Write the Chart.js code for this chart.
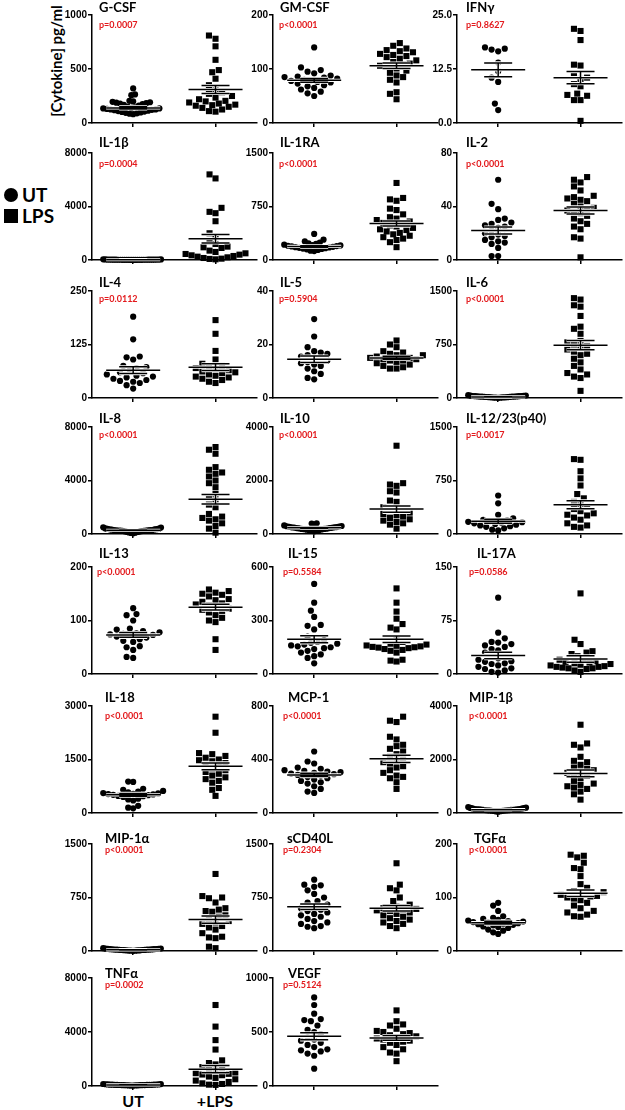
<!DOCTYPE html>
<html>
<head>
<meta charset="utf-8">
<script src="https://cdn.jsdelivr.net/npm/chart.js@4.4.0/dist/chart.umd.min.js"></script>
<style>
body { margin: 0; background: #fff; width: 625px; height: 1110px; position: relative; overflow: hidden; font-family: Lato, "Open Sans", sans-serif; }
canvas { position: absolute; }
.titulo { position: absolute; font-weight: bold; font-size: 13px; line-height: 14px; color: #000; white-space: nowrap; }
.pval { position: absolute; font-weight: bold; font-size: 9px; line-height: 10px; color: #e3191c; white-space: nowrap; }
.texto { position: absolute; font-weight: bold; color: #000; white-space: nowrap; }
</style>
</head>
<body>
<div class="texto" style="left:-9px; top:51px; width:130px; text-align:center; font-size:15px; line-height:20px; transform:rotate(-90deg);">[Cytokine] pg/ml</div>
<div style="position:absolute; left:4px; top:188px; width:14px; height:14px; border-radius:50%; background:#000;"></div>
<div class="texto" style="left:22px; top:183px; font-size:19px; line-height:24px;">UT</div>
<div style="position:absolute; left:4px; top:209px; width:14px; height:14px; background:#000;"></div>
<div class="texto" style="left:22px; top:204px; font-size:19px; line-height:24px;">LPS</div>
<div class="texto" style="left:113px; top:1091px; width:40px; text-align:center; font-size:16px; line-height:20px;">UT</div>
<div class="texto" style="left:185px; top:1091px; width:60px; text-align:center; font-size:16px; line-height:20px;">+LPS</div>
<script>
// datos
const groups = ['UT', '+LPS'];
const panelNames = ['G-CSF', 'GM-CSF', 'IFNγ', 'IL-1β', 'IL-1RA', 'IL-2', 'IL-4', 'IL-5', 'IL-6',
    'IL-8', 'IL-10', 'IL-12/23(p40)', 'IL-13', 'IL-15', 'IL-17A', 'IL-18', 'MCP-1', 'MIP-1β',
    'MIP-1α', 'sCD40L', 'TGFα', 'TNFα', 'VEGF'];
const pValues = ['p=0.0007', 'p<0.0001', 'p=0.8627', 'p=0.0004', 'p<0.0001', 'p<0.0001', 'p=0.0112',
    'p=0.5904', 'p<0.0001', 'p<0.0001', 'p<0.0001', 'p=0.0017', 'p<0.0001', 'p=0.5584', 'p=0.0586',
    'p<0.0001', 'p<0.0001', 'p<0.0001', 'p<0.0001', 'p=0.2304', 'p<0.0001', 'p=0.0002', 'p=0.5124'];
const yMax = [1000, 200, 25, 8000, 1500, 80, 250, 40, 1500, 8000, 4000, 1500, 200, 600, 150, 3000, 800,
    4000, 1500, 1500, 200, 8000, 1000];
const tickLabels = [
    ['0', '500', '1000'], ['0', '100', '200'], ['0.0', '12.5', '25.0'], ['0', '4000', '8000'],
    ['0', '750', '1500'], ['0', '40', '80'], ['0', '125', '250'], ['0', '20', '40'],
    ['0', '750', '1500'], ['0', '4000', '8000'], ['0', '2000', '4000'], ['0', '750', '1500'],
    ['0', '100', '200'], ['0', '300', '600'], ['0', '75', '150'], ['0', '1500', '3000'],
    ['0', '400', '800'], ['0', '2000', '4000'], ['0', '750', '1500'], ['0', '750', '1500'],
    ['0', '100', '200'], ['0', '4000', '8000'], ['0', '500', '1000']
];
const utValues = [
    [320, 265, 258, 205, 200, 196, 192, 188, 184, 180, 175, 168, 160, 152, 146, 140, 135, 130, 126, 122, 118, 114, 110, 106, 102, 98, 94, 90, 86, 82, 125, 135],
    [140, 103, 98, 95, 92, 88, 86, 85, 84, 82, 80, 79, 78, 76, 75, 73, 70, 68, 65, 62, 58, 55, 50],
    [17.5, 17.2, 17.0, 16.6, 14.0, 12.0, 10.5, 9.5, 4.5, 3.0],
    [5, 8, 10, 12, 15, 18, 20, 22, 25, 28, 30, 35, 40, 45, 50, 12, 16, 24, 30, 8, 20, 26, 14, 34, 18, 10, 22, 28],
    [365, 285, 260, 245, 235, 225, 215, 210, 205, 200, 195, 190, 185, 180, 175, 170, 165, 160, 155, 150, 140, 130, 125],
    [60, 42, 38, 31, 30, 28, 27, 26, 25, 24, 22, 20, 19, 18, 17, 15, 14, 13, 12, 9, 3, 3],
    [190, 137, 97, 95, 90, 75, 72, 70, 65, 60, 58, 55, 52, 50, 48, 45, 42, 40, 38, 35, 30, 22],
    [29.5, 23, 19, 17.5, 17, 16.5, 16, 15.5, 15, 14.5, 14, 13.5, 13, 12.5, 12, 11, 10, 9, 7.5, 7],
    [2, 5, 8, 10, 12, 15, 18, 20, 22, 25, 28, 30, 35, 40, 6, 14, 24, 32, 10, 18, 26, 4, 16, 28, 12, 20],
    [500, 480, 420, 400, 380, 360, 350, 340, 320, 300, 290, 280, 270, 260, 250, 240, 230, 220, 200, 180, 160, 150, 120, 100, 80, 50, 300, 260],
    [400, 390, 350, 320, 300, 290, 280, 270, 260, 250, 240, 230, 220, 210, 200, 190, 180, 170, 160, 150, 140, 130, 120, 100, 250, 220, 190],
    [540, 430, 270, 220, 200, 190, 180, 170, 165, 160, 150, 140, 130, 120, 110, 100, 80, 60, 50],
    [123, 112, 110, 100, 85, 83, 80, 78, 76, 75, 74, 73, 72, 70, 68, 65, 62, 60, 52, 50, 45, 32, 30],
    [505, 400, 355, 320, 275, 270, 250, 210, 190, 180, 175, 170, 165, 160, 155, 150, 145, 140, 130, 120, 110, 100, 90, 60],
    [107, 58, 50, 45, 44, 42, 40, 38, 35, 33, 30, 28, 25, 22, 20, 18, 17, 15, 14, 12, 10, 8, 7, 5, 3, 2],
    [880, 870, 680, 650, 620, 600, 580, 560, 550, 540, 530, 520, 510, 500, 480, 470, 450, 400, 380, 350, 200, 150, 130],
    [460, 385, 370, 340, 330, 320, 315, 310, 305, 300, 295, 290, 285, 280, 270, 260, 250, 240, 230, 220, 200, 180, 160, 150],
    [220, 200, 190, 180, 170, 160, 150, 145, 140, 135, 130, 125, 120, 115, 110, 105, 100, 95, 90, 85, 80, 75, 70, 60, 50, 140, 120, 100],
    [40, 35, 32, 30, 28, 26, 24, 22, 20, 18, 16, 15, 14, 12, 10, 8, 6, 5, 4, 3, 25, 20, 14, 10, 30, 18],
    [1000, 930, 920, 900, 850, 800, 750, 700, 680, 650, 620, 600, 580, 560, 540, 520, 500, 480, 450, 420, 400, 380, 350, 340, 320],
    [90, 85, 75, 65, 62, 60, 58, 57, 56, 55, 54, 53, 52, 51, 50, 49, 48, 46, 45, 43, 40, 38, 35, 32],
    [150, 140, 130, 120, 110, 100, 95, 90, 85, 80, 75, 70, 65, 60, 55, 50, 45, 40, 35, 30, 120, 100, 80, 60, 90, 70],
    [820, 750, 670, 620, 610, 600, 560, 520, 500, 480, 450, 430, 420, 400, 380, 360, 340, 330, 320, 300, 280, 160]
];
const lpsValues = [
    [810, 780, 710, 585, 490, 470, 410, 350, 300, 285, 270, 250, 235, 220, 205, 200, 190, 180, 170, 165, 160, 150, 140, 125, 110, 105],
    [148, 143, 138, 135, 133, 131, 128, 126, 124, 122, 119, 116, 113, 110, 108, 106, 104, 101, 97, 93, 88, 85, 80, 75, 57, 54, 44],
    [21.8, 21.3, 19.2, 13.5, 13.3, 11.2, 10.5, 10.2, 9.0, 8.5, 6.8, 6.5, 6.3, 5.3, 5.3, 0.5],
    [6400, 6100, 3900, 3600, 3500, 2900, 2000, 1750, 1400, 1200, 1000, 950, 900, 700, 600, 500, 450, 400, 350, 300, 250, 200, 150, 100, 80, 50],
    [1080, 870, 850, 830, 720, 700, 640, 600, 580, 560, 540, 520, 500, 485, 470, 450, 430, 420, 400, 380, 360, 340, 320, 300, 280, 250, 180],
    [62, 60, 58, 55, 52, 48, 47, 46, 45, 44, 42, 40, 39, 38, 37, 36, 35, 33, 31, 29, 27, 25, 23, 17, 16, 2],
    [182, 150, 110, 90, 80, 75, 72, 70, 68, 65, 62, 60, 58, 55, 52, 50, 48, 45, 42, 38, 35],
    [21.5, 20, 19, 17.5, 17, 16.5, 16, 16, 15.5, 15, 15, 14.5, 14.5, 14, 14, 13.5, 13, 12.5, 12, 11.5, 11, 11],
    [1400, 1380, 1300, 1280, 1150, 1000, 970, 900, 800, 780, 750, 730, 700, 680, 650, 620, 600, 550, 500, 450, 400, 350, 330, 300, 280, 100],
    [6500, 6300, 6000, 5000, 4800, 4600, 4500, 4300, 4000, 3800, 3500, 3000, 2800, 2500, 2200, 2000, 1500, 1300, 1200, 1100, 1000, 800, 600, 400, 100],
    [3300, 1900, 1850, 1800, 1600, 1550, 1250, 1200, 1000, 950, 900, 850, 800, 750, 700, 650, 600, 550, 500, 450, 400, 350, 200],
    [1050, 1040, 880, 780, 680, 560, 500, 450, 420, 380, 350, 320, 290, 270, 260, 230, 200, 150, 120, 100, 90],
    [158, 155, 152, 150, 148, 145, 140, 138, 135, 132, 130, 128, 125, 122, 120, 118, 115, 110, 105, 100, 97, 65, 45],
    [480, 400, 350, 310, 280, 260, 250, 200, 180, 170, 165, 160, 158, 155, 152, 150, 148, 145, 140, 135, 130, 120, 80, 75, 70],
    [113, 48, 42, 32, 30, 28, 25, 22, 20, 18, 17, 16, 15, 14, 13, 12, 11, 10, 10, 9, 8, 8, 7, 5, 3],
    [2700, 2250, 1680, 1650, 1600, 1550, 1500, 1480, 1450, 1400, 1350, 1300, 1250, 1200, 1150, 1100, 1050, 1000, 950, 900, 850, 700, 650, 480],
    [720, 690, 680, 570, 550, 510, 500, 480, 460, 440, 420, 400, 390, 380, 370, 350, 340, 320, 300, 280, 270, 260, 230, 180],
    [3300, 2600, 2550, 2450, 2100, 1950, 1900, 1800, 1700, 1650, 1600, 1550, 1500, 1450, 1400, 1300, 1200, 1100, 1050, 1000, 950, 900, 800, 700, 500],
    [1080, 770, 750, 740, 680, 600, 580, 560, 550, 500, 480, 450, 420, 400, 380, 350, 330, 300, 250, 200, 190, 180, 60, 40],
    [1230, 930, 880, 850, 750, 700, 650, 620, 600, 590, 580, 570, 560, 540, 520, 500, 480, 460, 440, 420, 400, 380, 350, 320],
    [180, 178, 175, 165, 155, 153, 140, 125, 118, 112, 110, 108, 105, 103, 102, 100, 98, 95, 90, 85, 80, 75, 72, 68, 65, 64],
    [6000, 4400, 3400, 2700, 1900, 1700, 1600, 1400, 1300, 1200, 1100, 1000, 950, 900, 850, 800, 700, 600, 500, 400, 300, 200, 150, 100, 80],
    [700, 600, 570, 560, 530, 510, 500, 490, 480, 470, 460, 450, 440, 430, 420, 410, 400, 380, 360, 340, 310, 300, 230]
];
const utMean = [140, 79, 12.3, 20, 190, 22, 65, 14.5, 15, 280, 230, 180, 73, 195, 26, 510, 285, 125, 17, 620, 53, 80, 460];
const utSem = [10, 3.5, 1.6, 3, 10, 2.6, 8, 1.2, 2, 20, 15, 28, 4.5, 20, 4.5, 38, 13, 8, 2, 38, 2.7, 7, 32];
const lpsMean = [310, 106, 10.5, 1590, 510, 37, 72, 15, 740, 2600, 930, 410, 125, 195, 21, 1310, 405, 1480, 440, 600, 108, 1250, 445];
const lpsSem = [37, 5, 1.4, 320, 35, 2.7, 8, 0.6, 65, 350, 120, 55, 5.5, 18, 4.5, 95, 27, 125, 50, 38, 6, 270, 22];

// disposicion de los paneles (pixeles)
const colX = [92, 273, 457];
const rowTop = [15, 153, 291, 427, 567, 706, 844, 978];
const rowBottom = [124, 261, 399, 535, 675, 814, 952, 1087];
const titleY = [7, 142, 282, 418, 553, 697, 838, 973];
const pY = [25, 164, 299, 435, 572, 716, 850, 985];
const titleX = [[99, 280, 466], [99, 280, 466], [99, 280, 466], [99, 280, 466], [99, 288, 477], [105, 288, 469], [105, 287, 474], [105, 288]];
const pX = [[99, 279, 466], [99, 279, 466], [99, 279, 466], [99, 279, 466], [97, 283, 469], [105, 283, 469], [105, 283, 469], [105, 283]];
const AXIS_LEN = 165;
const LEFT_W = 32;
const TOP_PAD = 8;
const BOTTOM_H = 6;
const X_UNIT = AXIS_LEN / 2;

// reparte los puntos a lo ancho (estilo beeswarm) a partir de los valores
function swarm(values, max, plotH, center) {
    const d = 6.6;
    const placed = [];
    const order = values.map((v, i) => i).sort((a, b) => values[a] - values[b]);
    order.forEach(i => {
        const py = values[i] / max * plotH;
        let off = 0;
        for (let k = 0; k < 400; k++) {
            const cand = (k % 2 === 0 ? 1 : -1) * Math.ceil(k / 2) * d / 2;
            if (placed.every(p => Math.hypot(p.px - cand, p.py - py) >= d)) {
                off = cand;
                break;
            }
        }
        placed.push({ i: i, px: off, py: py });
    });
    const widest = Math.max(...placed.map(p => Math.abs(p.px)));
    const factor = widest > 30 ? 30 / widest : 1;
    const out = [];
    placed.forEach(p => {
        out[p.i] = { x: center + p.px * factor / X_UNIT, y: values[p.i] };
    });
    return out;
}

const meanSemPlugin = {
    id: 'meanSem',
    afterDatasetsDraw(chart, args, opts) {
        const ctx = chart.ctx;
        const x = chart.scales.x;
        const y = chart.scales.y;
        opts.stats.forEach((s, k) => {
            const cx = x.getPixelForValue(k + 1);
            const ym = y.getPixelForValue(s.mean);
            const yt = y.getPixelForValue(s.mean + s.sem);
            const yb = y.getPixelForValue(Math.max(0, s.mean - s.sem));
            [['#fff', 3.2], ['#000', 1.5]].forEach(([color, width]) => {
                ctx.save();
                ctx.strokeStyle = color;
                ctx.lineWidth = width;
                ctx.beginPath();
                ctx.moveTo(cx - 27, ym); ctx.lineTo(cx + 27, ym);
                ctx.moveTo(cx - 14, yt); ctx.lineTo(cx + 14, yt);
                ctx.moveTo(cx - 14, yb); ctx.lineTo(cx + 14, yb);
                ctx.moveTo(cx, yt); ctx.lineTo(cx, yb);
                ctx.stroke();
                ctx.restore();
            });
        });
    }
};

function addText(cls, text, left, centerY, height) {
    const div = document.createElement('div');
    div.className = cls;
    div.textContent = text;
    div.style.left = left + 'px';
    div.style.top = (centerY - height / 2) + 'px';
    document.body.appendChild(div);
}

function crearPanel(i) {
    const col = i % 3;
    const row = Math.floor(i / 3);
    const axisX = colX[col];
    const plotH = rowBottom[row] - rowTop[row];

    const canvas = document.createElement('canvas');
    canvas.width = LEFT_W + AXIS_LEN + 4;
    canvas.height = TOP_PAD + plotH + BOTTOM_H;
    canvas.style.left = (axisX - LEFT_W) + 'px';
    canvas.style.top = (rowTop[row] - TOP_PAD) + 'px';
    document.body.appendChild(canvas);

    const max = yMax[i];
    new Chart(canvas.getContext('2d'), {
        type: 'scatter',
        data: {
            datasets: [{
                label: groups[0],
                data: swarm(utValues[i], max, plotH, 1),
                pointStyle: 'circle',
                pointRadius: 3.1,
                backgroundColor: '#000',
                borderWidth: 0,
                clip: false
            }, {
                label: groups[1],
                data: swarm(lpsValues[i], max, plotH, 2),
                pointStyle: 'rect',
                pointRadius: 4.3,
                backgroundColor: '#000',
                borderWidth: 0,
                clip: false
            }]
        },
        options: {
            responsive: false,
            animation: false,
            events: [],
            layout: { padding: { top: TOP_PAD, right: 4, left: 0, bottom: 0 } },
            plugins: {
                legend: { display: false },
                tooltip: { enabled: false },
                meanSem: {
                    stats: [{ mean: utMean[i], sem: utSem[i] }, { mean: lpsMean[i], sem: lpsSem[i] }]
                }
            },
            scales: {
                x: {
                    type: 'linear',
                    min: 0.5,
                    max: 2.5,
                    afterBuildTicks: scale => { scale.ticks = [{ value: 1 }, { value: 2 }]; },
                    afterFit: scale => { scale.height = BOTTOM_H; },
                    ticks: { display: false },
                    grid: { drawOnChartArea: false, tickLength: 4, color: '#000', lineWidth: 1.5 },
                    border: { color: '#000', width: 1.5 }
                },
                y: {
                    min: 0,
                    max: max,
                    afterBuildTicks: scale => { scale.ticks = [{ value: 0 }, { value: max / 2 }, { value: max }]; },
                    afterFit: scale => { scale.width = LEFT_W; },
                    ticks: {
                        padding: 1,
                        color: '#000',
                        font: { family: '"Liberation Sans Narrow", "Liberation Sans", sans-serif', size: 10, weight: 'bold' },
                        callback: (value, index) => tickLabels[i][index]
                    },
                    grid: { drawOnChartArea: false, tickLength: 4, color: '#000', lineWidth: 1.5 },
                    border: { color: '#000', width: 1.5 }
                }
            }
        },
        plugins: [meanSemPlugin]
    });

    addText('titulo', panelNames[i], titleX[row][col], titleY[row], 14);
    addText('pval', pValues[i], pX[row][col], pY[row], 10);
}

for (let i = 0; i < panelNames.length; i++) {
    crearPanel(i);
}
</script>
</body>
</html>
